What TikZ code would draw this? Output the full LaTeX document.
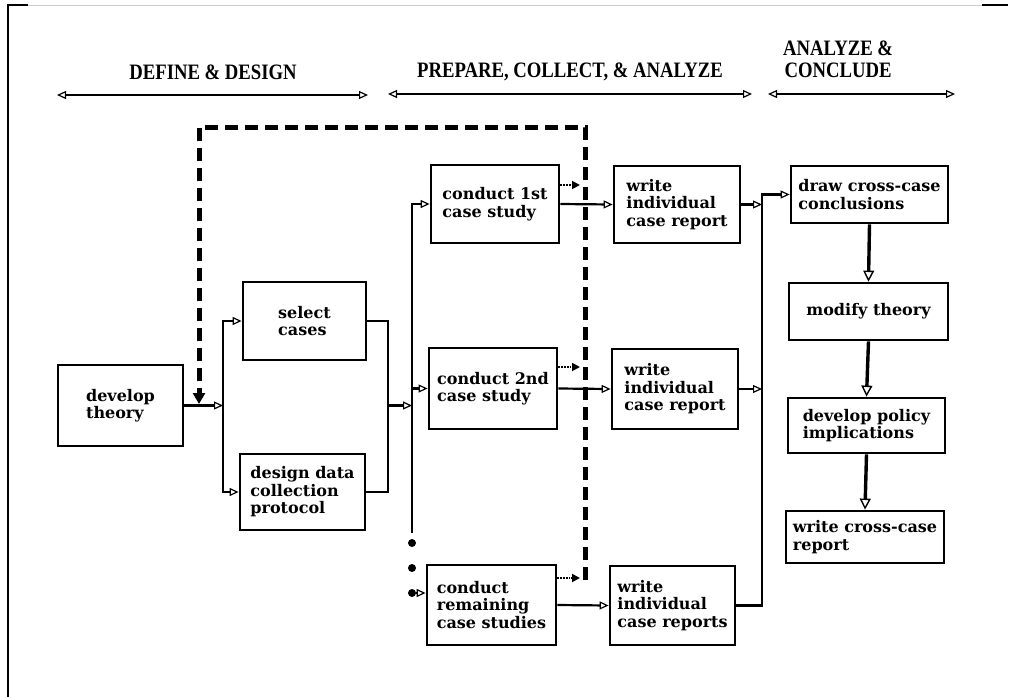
\documentclass[tikz,border=0pt]{standalone}
\usepackage{fontspec}
\setmainfont{DejaVu Serif}
\newfontfamily\phasefont[FakeStretch=0.85]{Liberation Serif}
\usetikzlibrary{positioning,arrows.meta}

\begin{document}
\begin{tikzpicture}[x=1pt,y=-1pt,
    box/.style={draw, line width=2.8pt, align=left, inner sep=0pt, font=\bfseries\fontsize{16}{17.5}\selectfont},
    phase/.style={font=\phasefont\bfseries\fontsize{22}{22}\selectfont, align=center, inner sep=0pt},
    phasespan/.style={line width=2pt, {Triangle[open,line width=1.2pt,length=9pt,width=8pt]}-{Triangle[open,line width=1.2pt,length=9pt,width=8pt]}},
    conn/.style={line width=2.2pt, -{Triangle[open,line width=1.2pt,length=9pt,width=8pt]}},
    wire/.style={line width=2.2pt},
    stepdown/.style={line width=3.4pt, -{Triangle[open,line width=1.4pt,length=11pt,width=11pt]}},
    feedback/.style={line width=5pt, dash pattern=on 13pt off 7pt, -{Triangle[length=11pt,width=12pt]}},
    hint/.style={line width=1.8pt, densely dotted, -{Triangle[length=8pt,width=8pt]}, shorten >=5pt},
    gapdot/.style={circle, fill, inner sep=0pt, minimum size=8pt}]
  \useasboundingbox (0,0) rectangle (1015,697);

  % page frame
  \draw[line width=1.8pt] (28,5) -- (8,5) -- (8,697);
  \draw[gray!40, line width=0.8pt] (28,5) -- (982,5);
  \draw[line width=1.8pt] (982,5) -- (1008,5);

  % phases
  \node[phase] (hdef) at (213,72) {DEFINE \& DESIGN};
  \node[phase] (hprep) at (570,72) {PREPARE, COLLECT, \& ANALYZE};
  \node[phase] (hconc) at (838,59) {ANALYZE \&\\CONCLUDE};
  \coordinate (defl) at (57,95);
  \coordinate (defr) at (368,95);
  \coordinate (prepl) at (388,94);
  \coordinate (prepr) at (752,94);
  \coordinate (concl) at (768,94);
  \coordinate (concr) at (955,94);
  \draw[phasespan] (defl) -- (defr);
  \draw[phasespan] (prepl) -- (prepr);
  \draw[phasespan] (concl) -- (concr);

  % boxes
  \node[box, minimum width=125pt, minimum height=81pt] (dev) at (120.5,405.5) {develop\\theory};
  \node[box, minimum width=123pt, minimum height=78pt] (sel) at (304.5,321) {select\\cases};
  \node[box, minimum width=125pt, minimum height=76pt] (dsg) at (302.5,492) {design data\\collection\\protocol};
  \node[box, minimum width=128pt, minimum height=78pt] (cs1) at (495,204) {conduct 1st\\case study};
  \node[box, minimum width=128pt, minimum height=81pt] (cs2) at (493,388.5) {conduct 2nd\\case study};
  \node[box, minimum width=129pt, minimum height=80pt] (csr) at (491.5,605) {conduct\\remaining\\case studies};
  \node[box, minimum width=126pt, minimum height=77pt] (rep1) at (677,204.5) {write\\individual\\case report};
  \node[box, minimum width=126pt, minimum height=80pt] (rep2) at (675,389) {write\\individual\\case report};
  \node[box, minimum width=125pt, minimum height=79pt] (repr) at (672.5,605.5) {write\\individual\\case reports};
  \node[box, minimum width=157pt, minimum height=57pt] (cross) at (869.5,194.5) {draw cross-case\\conclusions};
  \node[box, minimum width=159pt, minimum height=57pt] (modth) at (868.5,311.5) {modify theory};
  \node[box, minimum width=157pt, minimum height=55pt] (policy) at (866.5,425.5) {develop policy\\implications};
  \node[box, minimum width=158pt, minimum height=52pt] (crossrep) at (865,537) {write cross-case\\report};

  % bus lines
  \coordinate (busA) at (223,0);
  \coordinate (busB) at (388,0);
  \coordinate (busC) at (412,0);
  \coordinate (busD) at (762,0);
  \coordinate (busCend) at (412,533);
  \node[gapdot] (d1) at (412,543) {};
  \node[gapdot] (d2) at (412,568) {};
  \node[gapdot] (d3) at (412,593) {};

  % define & design
  \draw[conn] (dev.east) -- (dev.east -| busA);
  \draw[conn] (busA |- dsg.west) |- (sel.west);
  \draw[conn] (busA |- sel.west) |- (dsg.west);
  \draw[wire] (sel.east) -| (busB |- dsg.east) -- (dsg.east);
  \draw[conn] (busB |- dev.east) -- (busC |- dev.east);

  % case studies
  \draw[conn] (busCend) |- (cs1.west);
  \draw[conn] (busC |- cs2.west) -- (cs2.west);
  \draw[conn] (d3) -- (csr.west |- d3);
  \draw[conn] (cs1.east) -- (rep1.west);
  \draw[conn] (cs2.east) -- (rep2.west);
  \draw[conn] (csr.east) -- (repr.west);

  % cross-case
  \draw[conn] (rep1.east) -- (rep1.east -| busD);
  \draw[conn] (rep2.east) -- (rep2.east -| busD);
  \draw[conn] (repr.east) -| (busD |- cross.west) -- (cross.west);
  \draw[stepdown] (cross.south) -- (modth.north);
  \draw[stepdown] (modth.south) -- (policy.north);
  \draw[stepdown] (policy.south) -- (crossrep.north);

  % feedback loop
  \coordinate (fbA) at (585,580);
  \coordinate (fbtop) at (199,127);
  \coordinate (fbin) at (199,404);
  \draw[feedback] (fbA) |- (fbtop) -- (fbin);
  \draw[hint] (cs1.east |- 0,185) -- (fbA |- 0,185);
  \draw[hint] (cs2.east |- 0,367) -- (fbA |- 0,367);
  \draw[hint] (csr.east |- 0,578) -- (fbA |- 0,578);
\end{tikzpicture}
\end{document}
